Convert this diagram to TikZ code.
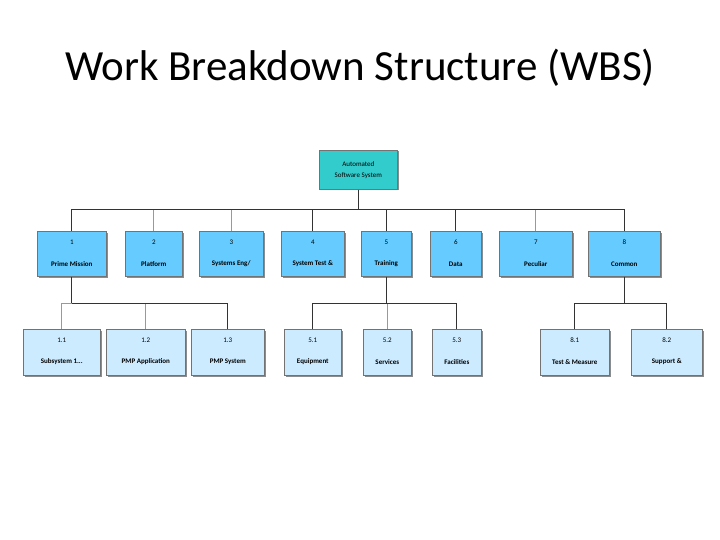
\documentclass[tikz,border=0pt]{standalone}
\usepackage{fontspec}
\setmainfont{Carlito}
\usetikzlibrary{calc}
\newcommand\lbox[8]{%
  \fill[black!45] (#2+1.5,#3+1.5) rectangle (#4+1.5,#5+1.5);
  \node[box=#8,minimum width=#4-#2,minimum height=#5-#3,anchor=north west] (#1) at (#2,#3) {};
  \node[txt] (#1n) at ($(#1.north)+(0,11)$) {#6};
  \node[txt,font=\fontsize{7}{8}\selectfont\bfseries] (#1l) at ($(#1.north)+(0,33)$) {#7};}
\begin{document}
\begin{tikzpicture}[x=1pt,y=-1pt,
  box/.style={draw=black!55,line width=0.6pt,fill=#1,inner sep=0pt},
  txt/.style={font=\fontsize{7}{8}\selectfont,inner sep=0pt},
  ln/.style={draw=black!80,line width=0.8pt},
  lg/.style={draw=black!40,line width=0.7pt}]
\definecolor{teal1}{HTML}{33CCCC}
\definecolor{blue1}{HTML}{66CCFF}
\definecolor{blue2}{HTML}{CCEBFF}
\path[use as bounding box] (0,0) rectangle (720,540);
\node[font=\fontsize{43}{50}\selectfont] (title) at (360,68) {Work Breakdown Structure (WBS)};
% root
\fill[black!45] (320.5,151.5) rectangle (398.5,190.5);
\node[box=teal1,minimum width=78,minimum height=39,anchor=north west,txt,align=center] (root) at (319,150) {Automated\\[3pt]Software System};
% level 1
\lbox{a1}{37}{231}{106}{276}{1}{Prime Mission}{blue1}
\lbox{a2}{125}{231}{182}{276}{2}{Platform}{blue1}
\lbox{a3}{199}{231}{263}{276}{3}{Systems Eng/}{blue1}
\lbox{a4}{281}{231}{344}{276}{4}{System Test \&}{blue1}
\lbox{a5}{361}{231}{411}{276}{5}{Training}{blue1}
\lbox{a6}{430}{231}{481}{276}{6}{Data}{blue1}
\lbox{a7}{499}{231}{572}{276}{7}{Peculiar}{blue1}
\lbox{a8}{588}{231}{660}{276}{8}{Common}{blue1}
% level 2
\lbox{b11}{23}{329}{100}{375}{1.1}{Subsystem 1...}{blue2}
\lbox{b12}{106}{329}{185}{375}{1.2}{PMP Application}{blue2}
\lbox{b13}{191}{329}{264}{375}{1.3}{PMP System}{blue2}
\lbox{b51}{284}{329}{341}{375}{5.1}{Equipment}{blue2}
\lbox{b52}{363}{329}{411}{375}{5.2}{Services}{blue2}
\lbox{b53}{432}{329}{481}{375}{5.3}{Facilities}{blue2}
\lbox{b81}{540}{329}{609}{375}{8.1}{Test \& Measure}{blue2}
\lbox{b82}{631}{329}{702}{375}{8.2}{Support \&}{blue2}
% connectors level 1
\draw[ln] (root.south) -- ++(0,20) coordinate (j0);
\draw[ln] (a1.north) |- (j0) -| (a8.north);
\foreach \n in {a2,a3,a7}{\draw[lg] (\n.north) -- (\n.north |- j0);}
\foreach \n in {a4,a5,a6}{\draw[ln] (\n.north) -- (\n.north |- j0);}
% connectors level 2
\draw[ln] (a1.south) -- ++(0,27) coordinate (j1);
\draw[lg] (b11.north) |- (j1);
\draw[lg] (b12.north) -- (b12.north |- j1);
\draw[ln] (j1) -| (b13.north);
\draw[ln] (a5.south) -- ++(0,27) coordinate (j5);
\draw[ln] (b51.north) |- (j5) -| (b53.north);
\draw[lg] (b52.north) -- (b52.north |- j5);
\draw[ln] (a8.south) -- ++(0,27) coordinate (j8);
\draw[ln] (b81.north) |- (j8) -| (b82.north);
\end{tikzpicture}
\end{document}
